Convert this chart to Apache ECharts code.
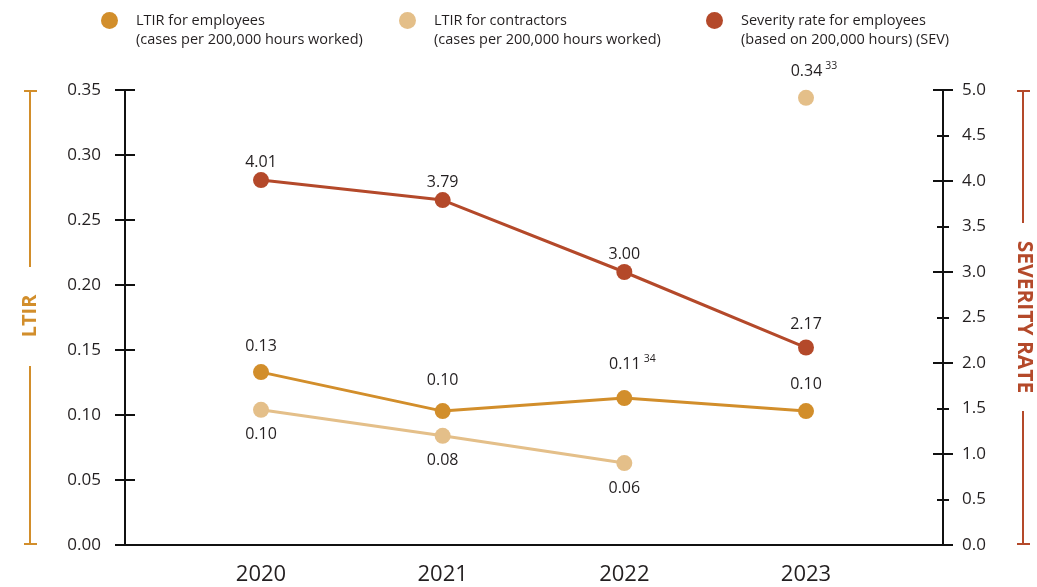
<!DOCTYPE html>
<html>
<head>
<meta charset="utf-8">
<script src="https://cdn.jsdelivr.net/npm/echarts@6/dist/echarts.min.js"></script>
<style>
html,body{margin:0;padding:0;background:#fff;}
#chart{width:1037px;height:587px;}
</style>
</head>
<body>
<div id="chart"></div>
<script>
// ---- data ----
const years = ['2020', '2021', '2022', '2023'];
const ltirEmployees = [0.133, 0.103, 0.113, 0.103];
const ltirContractors = [0.104, 0.084, 0.063, 0.344];
const severityEmployees = [4.01, 3.79, 3.00, 2.17];
const ltirTicks = ['0.00', '0.05', '0.10', '0.15', '0.20', '0.25', '0.30', '0.35'];
const sevTicks = ['0.0', '0.5', '1.0', '1.5', '2.0', '2.5', '3.0', '3.5', '4.0', '4.5', '5.0'];
const employeeFootnotes = ['', '', '34', ''];
const contractorFootnotes = ['', '', '', '33'];
const seriesNames = ['LTIR for employees', 'LTIR for contractors', 'Severity rate for employees'];
const seriesSubtitles = ['(cases per 200,000 hours worked)', '(cases per 200,000 hours worked)', '(based on 200,000 hours) (SEV)'];

// ---- style ----
const C_EMP = '#D28E2B';
const C_CON = '#E4BF89';
const C_SEV = '#B4492A';
const TXT = '#231F20';
const FONT = '"Open Sans", "Noto Sans", sans-serif';

const chart = echarts.init(document.getElementById('chart'));

const richLabel = {
  v: { fontSize: 16, color: TXT, fontFamily: FONT },
  s: { fontSize: 10.5, color: TXT, fontFamily: FONT, padding: [0, 0, 11, 3] },
  pad: { width: 16 }
};
function fmtLabel(val, note) {
  const t = val.toFixed(2);
  if (note) return '{pad|}{v|' + t + '}{s|' + note + '}';
  return '{v|' + t + '}';
}

function mkData(values, positions, distances, notes) {
  return values.map((v, i) => (v === null ? null : {
    value: v,
    label: {
      position: positions[i],
      distance: distances[i],
      formatter: () => fmtLabel(v, notes ? notes[i] : '')
    }
  }));
}

const leftAxisBase = { type: 'value', gridIndex: 0, position: 'left', min: 0, max: 0.35, interval: 0.05, offset: 136, splitLine: { show: false } };
const rightAxisBase = { type: 'value', gridIndex: 0, position: 'right', min: 0, max: 5, offset: 137, splitLine: { show: false } };

const legendBase = (i, left) => ({
  data: [seriesNames[i]],
  left: left, top: 12, padding: 0,
  icon: 'circle', itemWidth: 17, itemHeight: 17,
  selectedMode: false,
  textStyle: { fontSize: 14.5, color: TXT, fontFamily: FONT, padding: [2, 0, 0, 13] }
});

const option = {
  backgroundColor: '#fff',
  animation: false,
  textStyle: { fontFamily: FONT },
  legend: [legendBase(0, 101), legendBase(1, 399), legendBase(2, 706)],
  grid: [
    { left: 261, right: 231, top: 90, bottom: 42 },
    { left: 125, right: 94, top: 90, bottom: 42 }
  ],
  xAxis: [
    {
      type: 'category', gridIndex: 0, data: years, boundaryGap: false,
      axisLine: { show: false }, axisTick: { show: false },
      axisLabel: { fontSize: 22, color: TXT, margin: 19, fontFamily: FONT }
    },
    {
      type: 'value', gridIndex: 1, min: 0, max: 1,
      axisLine: { show: true, lineStyle: { color: '#111', width: 2 } },
      axisTick: { show: false }, axisLabel: { show: false }, splitLine: { show: false }
    }
  ],
  yAxis: [
    Object.assign({}, leftAxisBase, {
      axisLine: { show: true, lineStyle: { color: '#111', width: 2 } },
      axisTick: { show: false },
      axisLabel: { margin: 24, fontSize: 17, color: TXT, fontFamily: FONT, formatter: (v) => ltirTicks[Math.round(v / 0.05)] }
    }),
    Object.assign({}, rightAxisBase, {
      interval: 0.5,
      axisLine: { show: true, lineStyle: { color: '#111', width: 2 } },
      axisTick: { show: false },
      axisLabel: { margin: 19, fontSize: 17, color: TXT, fontFamily: FONT, formatter: (v) => sevTicks[Math.round(v / 0.5)] }
    }),
    Object.assign({}, leftAxisBase, {
      offset: 126,
      axisLine: { show: false },
      axisTick: { show: true, length: 20, lineStyle: { color: '#111', width: 2 } },
      axisLabel: { show: false }
    }),
    Object.assign({}, rightAxisBase, {
      interval: 1, offset: 127,
      axisLine: { show: false },
      axisTick: { show: true, length: 20, lineStyle: { color: '#111', width: 2 } },
      axisLabel: { show: false }
    }),
    Object.assign({}, rightAxisBase, {
      interval: 0.5, offset: 131,
      axisLine: { show: false },
      axisTick: { show: true, length: 12, lineStyle: { color: '#111', width: 2 } },
      axisLabel: { show: false }
    }),
    { type: 'value', gridIndex: 1, show: false, min: 0, max: 1 }
  ],
  series: [
    {
      name: seriesNames[0], type: 'line', xAxisIndex: 0, yAxisIndex: 0,
      data: mkData(ltirEmployees, ['top', 'top', 'top', 'top'], [10, 15, 15, 11], employeeFootnotes),
      color: C_EMP, symbol: 'circle', symbolSize: 16,
      lineStyle: { width: 3, color: C_EMP }, itemStyle: { color: C_EMP, opacity: 1 },
      label: { show: true, rich: richLabel }, z: 3
    },
    {
      name: seriesNames[1], type: 'line', xAxisIndex: 0, yAxisIndex: 0,
      data: mkData(ltirContractors.slice(0, 3).concat([null]), ['bottom', 'bottom', 'bottom', 'top'], [9, 9, 9, 9], contractorFootnotes),
      color: C_CON, symbol: 'circle', symbolSize: 16,
      lineStyle: { width: 3, color: C_CON }, itemStyle: { color: C_CON, opacity: 1 },
      label: { show: true, rich: richLabel }, z: 2
    },
    {
      name: seriesNames[1], type: 'scatter', xAxisIndex: 0, yAxisIndex: 0,
      data: ltirContractors.map((v, i) => i === 3 ? {
        value: v,
        label: { show: true, position: 'top', distance: 7, formatter: () => fmtLabel(v, contractorFootnotes[i]) }
      } : null),
      color: C_CON, symbol: 'circle', symbolSize: 16, itemStyle: { color: C_CON, opacity: 1 },
      label: { rich: richLabel }, z: 2
    },
    {
      name: seriesNames[2], type: 'line', xAxisIndex: 0, yAxisIndex: 1,
      data: mkData(severityEmployees, ['top', 'top', 'top', 'top'], [2, 2, 2, 7], null),
      color: C_SEV, symbol: 'circle', symbolSize: 16,
      lineStyle: { width: 3, color: C_SEV }, itemStyle: { color: C_SEV, opacity: 1 },
      label: { show: true, rich: richLabel }, z: 4
    }
  ],
  graphic: [
    // legend subtitles
    { type: 'text', left: 136, top: 32, style: { text: seriesSubtitles[0], fontSize: 14.5, fill: TXT, fontFamily: FONT } },
    { type: 'text', left: 434, top: 32, style: { text: seriesSubtitles[1], fontSize: 14.5, fill: TXT, fontFamily: FONT } },
    { type: 'text', left: 741, top: 32, style: { text: seriesSubtitles[2], fontSize: 14.5, fill: TXT, fontFamily: FONT } },
    // LTIR side label
    { type: 'line', shape: { x1: 30, y1: 91, x2: 30, y2: 267 }, style: { stroke: C_EMP, lineWidth: 2 } },
    { type: 'line', shape: { x1: 24, y1: 91, x2: 37, y2: 91 }, style: { stroke: C_EMP, lineWidth: 2 } },
    { type: 'line', shape: { x1: 30, y1: 366, x2: 30, y2: 544 }, style: { stroke: C_EMP, lineWidth: 2 } },
    { type: 'line', shape: { x1: 24, y1: 544, x2: 37, y2: 544 }, style: { stroke: C_EMP, lineWidth: 2 } },
    { type: 'text', x: 30, y: 316, rotation: Math.PI / 2,
      style: { text: 'LTIR', fontSize: 20, fontWeight: 'bold', fill: C_EMP, fontFamily: FONT, align: 'center', verticalAlign: 'middle' } },
    // SEVERITY RATE side label
    { type: 'line', shape: { x1: 1023, y1: 91, x2: 1023, y2: 223 }, style: { stroke: C_SEV, lineWidth: 2 } },
    { type: 'line', shape: { x1: 1017, y1: 91, x2: 1030, y2: 91 }, style: { stroke: C_SEV, lineWidth: 2 } },
    { type: 'line', shape: { x1: 1023, y1: 411, x2: 1023, y2: 544 }, style: { stroke: C_SEV, lineWidth: 2 } },
    { type: 'line', shape: { x1: 1017, y1: 544, x2: 1030, y2: 544 }, style: { stroke: C_SEV, lineWidth: 2 } },
    { type: 'text', x: 1024, y: 317, rotation: -Math.PI / 2,
      style: { text: 'SEVERITY RATE', fontSize: 21, fontWeight: 'bold', fill: C_SEV, fontFamily: FONT, align: 'center', verticalAlign: 'middle' } }
  ]
};
chart.setOption(option);
</script>
</body>
</html>
